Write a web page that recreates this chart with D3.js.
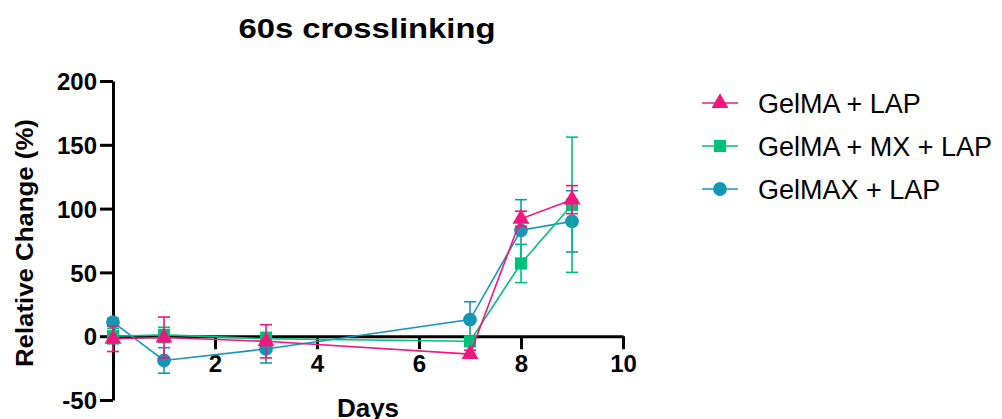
<!DOCTYPE html>
<html>
<head>
<meta charset="utf-8">
<script src="https://cdn.jsdelivr.net/npm/d3@7"></script>
<style>
  body { margin: 0; background: #fff; }
  text { font-family: "Liberation Sans", Arial, sans-serif; }
</style>
</head>
<body>
<svg id="chart" width="1002" height="419"></svg>
<script>
const days = [0, 1, 3, 7, 8, 9];
const seriesNames = ["GelMAX + LAP", "GelMA + MX + LAP", "GelMA + LAP"];
const legendOrder = ["GelMA + LAP", "GelMA + MX + LAP", "GelMAX + LAP"];
// means and SD per series
const gelmaxMean = [11, -19, -10, 13, 83, 90];
const gelmaxErr = [3, 10, 11, 14, 24, 24];
const gelmaMxMean = [0, 1, -2, -4, 57, 103];
const gelmaMxErr = [6, 6, 5, 3, 15, 53];
const gelmaMean = [-2, -1, -4, -14, 92, 107];
const gelmaErr = [10, 16, 13, 3, 6, 11];
const xTicks = [2, 4, 6, 8, 10];
const yTicks = [-50, 0, 50, 100, 150, 200];

const colors = {
  "GelMA + LAP": "#f0177f",
  "GelMA + MX + LAP": "#00c07a",
  "GelMAX + LAP": "#1596b4"
};
const symbols = {
  "GelMA + LAP": d3.symbolTriangle,
  "GelMA + MX + LAP": d3.symbolSquare,
  "GelMAX + LAP": d3.symbolCircle
};
const symSize = {
  "GelMA + LAP": 125,
  "GelMA + MX + LAP": 150,
  "GelMAX + LAP": 150
};

const data = {
  "GelMAX + LAP": days.map((d, i) => ({ day: d, v: gelmaxMean[i], e: gelmaxErr[i] })),
  "GelMA + MX + LAP": days.map((d, i) => ({ day: d, v: gelmaMxMean[i], e: gelmaMxErr[i] })),
  "GelMA + LAP": days.map((d, i) => ({ day: d, v: gelmaMean[i], e: gelmaErr[i] }))
};

const svg = d3.select("#chart");
const x = d3.scaleLinear().domain([0, 10]).range([113, 623]);
const y = d3.scaleLinear().domain([-50, 200]).range([400, 81]);

// title
svg.append("text")
  .attr("x", 367).attr("y", 38)
  .attr("text-anchor", "middle")
  .attr("textLength", 257).attr("lengthAdjust", "spacingAndGlyphs")
  .style("font-size", "27px").style("font-weight", "bold")
  .text("60s crosslinking");

// axes
const yAxis = svg.append("g")
  .attr("transform", `translate(${x(0)},0)`)
  .call(d3.axisLeft(y).tickValues(yTicks).tickFormat(d => String(d))
    .tickSize(13).tickSizeOuter(0).tickPadding(3));
yAxis.select(".domain").attr("stroke-width", 3).attr("stroke", "#000");
yAxis.selectAll(".tick line").attr("stroke-width", 3);
yAxis.selectAll(".tick text")
  .style("font-size", "24px").style("font-weight", "bold")
  .attr("fill", "#000").attr("dy", "0.36em");

const xAxis = svg.append("g")
  .attr("transform", `translate(0,${y(0)})`)
  .call(d3.axisBottom(x).tickValues(xTicks).tickSize(13).tickSizeOuter(0).tickPadding(6));
xAxis.select(".domain").attr("stroke-width", 3).attr("stroke", "#000");
xAxis.selectAll(".tick line").attr("stroke-width", 3);
xAxis.selectAll(".tick text")
  .style("font-size", "24px").style("font-weight", "bold").attr("fill", "#000");

svg.append("text")
  .attr("transform", `translate(33,${y(73)}) rotate(-90)`)
  .attr("text-anchor", "middle")
  .attr("textLength", 248).attr("lengthAdjust", "spacingAndGlyphs")
  .style("font-size", "24px").style("font-weight", "bold")
  .text("Relative Change (%)");

// axis title sits partly below the frame, as in the original
svg.append("text")
  .attr("x", 368).attr("y", 417)
  .attr("text-anchor", "middle")
  .style("font-size", "26px").style("font-weight", "bold")
  .text("Days");

// series
const line = d3.line().x(d => x(d.day)).y(d => y(d.v));
seriesNames.forEach(name => {
  const g = svg.append("g");
  const c = colors[name];
  const pts = data[name];
  g.append("path").datum(pts)
    .attr("d", line).attr("fill", "none")
    .attr("stroke", c).attr("stroke-width", 1.6);
  const eb = g.selectAll(".eb").data(pts).enter().append("g");
  eb.append("line")
    .attr("x1", d => x(d.day)).attr("x2", d => x(d.day))
    .attr("y1", d => y(d.v - d.e)).attr("y2", d => y(d.v + d.e))
    .attr("stroke", c).attr("stroke-width", 1.6);
  [-1, 1].forEach(s => {
    eb.append("line")
      .attr("x1", d => x(d.day) - 6).attr("x2", d => x(d.day) + 6)
      .attr("y1", d => y(d.v + s * d.e)).attr("y2", d => y(d.v + s * d.e))
      .attr("stroke", c).attr("stroke-width", 1.6);
  });
  g.selectAll(".mk").data(pts).enter().append("path")
    .attr("d", d3.symbol().type(symbols[name]).size(symSize[name]))
    .attr("transform", d => `translate(${x(d.day)},${y(d.v)})`)
    .attr("fill", c);
});

// legend
legendOrder.forEach((name, i) => {
  const ly = 103 + i * 43;
  const c = colors[name];
  svg.append("line")
    .attr("x1", 702).attr("x2", 738).attr("y1", ly).attr("y2", ly)
    .attr("stroke", c).attr("stroke-width", 1.6);
  svg.append("path")
    .attr("d", d3.symbol().type(symbols[name]).size(symSize[name]))
    .attr("transform", `translate(720,${ly})`)
    .attr("fill", c);
  svg.append("text")
    .attr("x", 758).attr("y", ly)
    .attr("dy", "0.36em")
    .style("font-size", "27px")
    .text(name);
});
</script>
</body>
</html>
